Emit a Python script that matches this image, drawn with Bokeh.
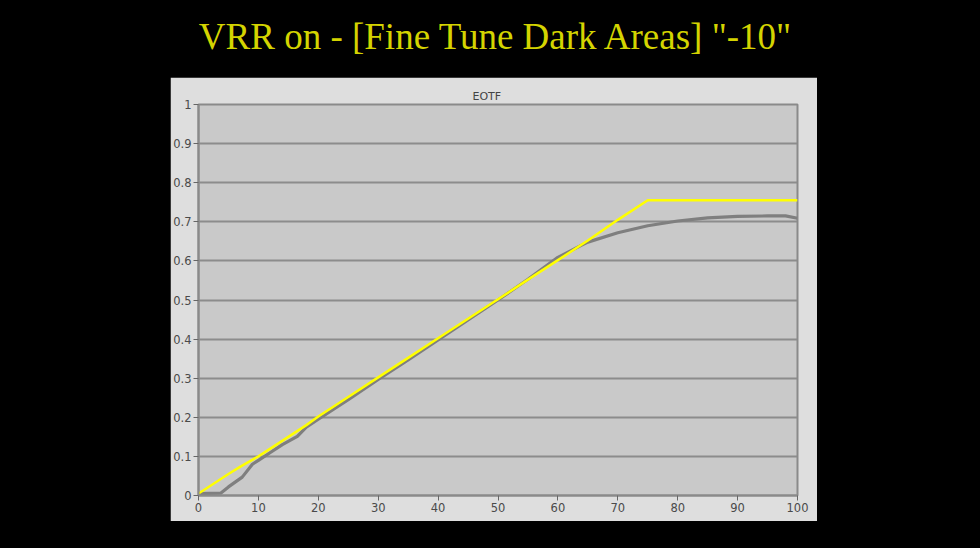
from bokeh.plotting import figure
from bokeh.models import FixedTicker, Range1d, Div
from bokeh.layouts import column
from bokeh.embed import file_html
from bokeh.resources import INLINE

# ---- data ----
title_text = 'VRR on - [Fine Tune Dark Areas] "-10"'
chart_title = "EOTF"

target_x = [0, 5, 7, 10, 15, 18, 20, 25, 30, 35, 40, 45, 50, 55, 60, 65, 70, 75, 80, 85, 90, 95, 100]
target_y = [0.005, 0.055, 0.074, 0.10, 0.15, 0.18, 0.202, 0.252, 0.302, 0.352, 0.402, 0.452, 0.502,
            0.552, 0.602, 0.652, 0.705, 0.755, 0.755, 0.755, 0.755, 0.755, 0.755]

meas_x = [0, 3.7, 5, 7.3, 9, 10, 12, 14, 16.5, 18, 20, 25, 30, 35, 40, 45, 50, 55, 60, 63.8,
          65, 70, 75, 80, 85, 90, 95, 98, 100]
meas_y = [0.005, 0.006, 0.022, 0.047, 0.08, 0.09, 0.11, 0.13, 0.151, 0.175, 0.195, 0.245, 0.297,
          0.347, 0.398, 0.449, 0.50, 0.553, 0.609, 0.639, 0.648, 0.672, 0.69, 0.702, 0.71, 0.714,
          0.715, 0.715, 0.709]

x_ticks = [0, 10, 20, 30, 40, 50, 60, 70, 80, 90, 100]
y_ticks = [0, 0.1, 0.2, 0.3, 0.4, 0.5, 0.6, 0.7, 0.8, 0.9, 1]
y_tick_labels = ["0", "0.1", "0.2", "0.3", "0.4", "0.5", "0.6", "0.7", "0.8", "0.9", "1"]

# ---- panel figure ----
p = figure(width=647, height=444, output_backend="svg", toolbar_location=None,
           x_range=Range1d(0, 100), y_range=Range1d(0, 1),
           min_border_left=28, min_border_right=20, min_border_top=27, min_border_bottom=26,
           margin=(0, 0, 0, 162))
p.border_fill_color = "#dedede"
p.background_fill_color = "#c9c9c9"
p.outline_line_color = "#8a8a8a"
p.outline_line_width = 2

p.title.text = chart_title
p.title.align = "left"
p.title.text_font = "DejaVu Sans"
p.title.text_font_size = "11px"
p.title.text_font_style = "normal"
p.title.text_color = "#444444"
p.title.standoff = 3
p.title.offset = 274

for ax in (p.xaxis[0], p.yaxis[0]):
    ax.axis_line_color = "#8a8a8a"
    ax.axis_line_width = 2
    ax.major_tick_line_color = "#666666"
    ax.major_tick_out = 5
    ax.major_tick_in = 0
    ax.minor_tick_line_color = None
    ax.major_label_text_font = "DejaVu Sans"
    ax.major_label_text_font_size = "11.5px"
    ax.major_label_text_color = "#4a4a4a"
    ax.major_label_standoff = 2
p.xaxis.ticker = FixedTicker(ticks=x_ticks)
p.yaxis.ticker = FixedTicker(ticks=y_ticks)
p.yaxis.major_label_overrides = {t: l for t, l in zip(y_ticks, y_tick_labels)}

p.xgrid.grid_line_color = None
p.ygrid.ticker = FixedTicker(ticks=y_ticks)
p.ygrid.grid_line_color = "#8c8c8c"
p.ygrid.grid_line_width = 2

p.line(meas_x, meas_y, line_color="#7f7f7f", line_width=3.2)
p.line(target_x, target_y, line_color="#ffff00", line_width=2.5)

# ---- page title ----
head = Div(text='<div style="color:#d4d400;font-family:\'Liberation Serif\',serif;font-size:37px;'
                'line-height:37px;margin-top:10px;position:relative;left:5px;text-align:center;width:964px;">'
                + title_text.replace('"', '&quot;') + '</div>',
           width=964, height=69, margin=(0, 0, 0, 0))

root = column(head, p, width=964, height=532, spacing=0,
              styles={"background-color": "#000000"})

html = file_html(root, INLINE)
html = html.replace("</head>", "<style>body{background:#000000;margin:8px;}</style></head>", 1)
open("out.html", "w").write(html)
